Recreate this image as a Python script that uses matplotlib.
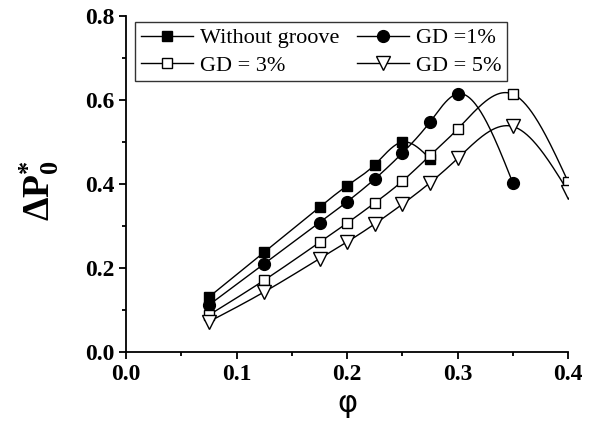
import numpy as np
import matplotlib
matplotlib.use('Agg')
import matplotlib.pyplot as plt
from matplotlib.lines import Line2D
from matplotlib.ticker import MultipleLocator, FormatStrFormatter

# Fontes estilo Times
plt.rcParams['font.family'] = ['Liberation Serif', 'DejaVu Serif']
plt.rcParams['mathtext.fontset'] = 'custom'
plt.rcParams['mathtext.rm'] = 'Liberation Serif'
plt.rcParams['mathtext.bf'] = 'Liberation Serif:bold'
plt.rcParams['mathtext.it'] = 'Liberation Serif:italic'

# Dados
phi_a = [0.075, 0.125, 0.175, 0.2, 0.225, 0.25, 0.275]
dp_sem_ranhura = [0.131, 0.238, 0.345, 0.396, 0.446, 0.500, 0.460]

phi_b = [0.075, 0.125, 0.175, 0.2, 0.225, 0.25, 0.275, 0.3, 0.35]
dp_gd1 = [0.112, 0.210, 0.308, 0.358, 0.412, 0.474, 0.548, 0.615, 0.402]

phi_c = [0.075, 0.125, 0.175, 0.2, 0.225, 0.25, 0.275, 0.3, 0.35, 0.4]
dp_gd3 = [0.088, 0.171, 0.261, 0.307, 0.355, 0.407, 0.468, 0.531, 0.614, 0.405]
dp_gd5 = [0.072, 0.143, 0.222, 0.262, 0.305, 0.352, 0.403, 0.461, 0.537, 0.382]

series = {
    'Without groove': (phi_a, dp_sem_ranhura, 's', 'black', 7),
    'GD =1%': (phi_b, dp_gd1, 'o', 'black', 8.5),
    'GD = 3%': (phi_c, dp_gd3, 's', 'white', 7.5),
    'GD = 5%': (phi_c, dp_gd5, 'v', 'white', 9.5),
}
# ordem da legenda (preenchida por colunas -> linhas como no original)
ordem_legenda = ['Without groove', 'GD = 3%', 'GD =1%', 'GD = 5%']


# Spline cúbica natural (tipo "Spline" do Origin) para a linha
def spline_natural(x, y, n=60):
    x = np.asarray(x, float)
    y = np.asarray(y, float)
    k = len(x)
    h = np.diff(x)
    A = np.zeros((k, k))
    r = np.zeros(k)
    A[0, 0] = A[-1, -1] = 1
    for i in range(1, k - 1):
        A[i, i - 1] = h[i - 1]
        A[i, i] = 2 * (h[i - 1] + h[i])
        A[i, i + 1] = h[i]
        r[i] = 6 * ((y[i + 1] - y[i]) / h[i] - (y[i] - y[i - 1]) / h[i - 1])
    M = np.linalg.solve(A, r)
    xs, ys = [], []
    for i in range(k - 1):
        t = np.linspace(x[i], x[i + 1], n)
        a = (x[i + 1] - t) / h[i]
        b = (t - x[i]) / h[i]
        s = a * y[i] + b * y[i + 1] + ((a**3 - a) * M[i] + (b**3 - b) * M[i + 1]) * h[i]**2 / 6
        xs.append(t)
        ys.append(s)
    return np.concatenate(xs), np.concatenate(ys)


fig = plt.figure(figsize=(5.9, 4.36), dpi=100)
ax = fig.add_axes([0.214, 0.193, 0.749, 0.770])

handles = {}
for nome, (x, y, mk, fc, ms) in series.items():
    xs, ys = spline_natural(x, y)
    ax.plot(xs, ys, color='black', lw=1.0, zorder=2)
    ax.plot(x, y, ls='none', marker=mk, ms=ms, mfc=fc, mec='black', mew=1.0, zorder=3)
    handles[nome] = Line2D([], [], color='black', lw=1.0, marker=mk, ms=ms,
                           mfc=fc, mec='black', mew=1.0, label=nome)

ax.set_xlim(0, 0.4)
ax.set_ylim(0, 0.8)
ax.xaxis.set_major_locator(MultipleLocator(0.1))
ax.xaxis.set_minor_locator(MultipleLocator(0.05))
ax.yaxis.set_major_locator(MultipleLocator(0.2))
ax.yaxis.set_minor_locator(MultipleLocator(0.1))
ax.xaxis.set_major_formatter(FormatStrFormatter('%.1f'))
ax.yaxis.set_major_formatter(FormatStrFormatter('%.1f'))

for lado in ['top', 'right']:
    ax.spines[lado].set_visible(False)
for lado in ['left', 'bottom']:
    ax.spines[lado].set_linewidth(1.3)

ax.tick_params(which='major', direction='out', length=5, width=1.3, labelsize=17)
ax.tick_params(which='minor', direction='out', length=3, width=1.3)
for lab in ax.get_xticklabels() + ax.get_yticklabels():
    lab.set_fontweight('bold')

ax.set_xlabel('\u03c6', fontsize=22, labelpad=3, family=['DejaVu Sans'])
ax.set_ylabel(r'$\mathbf{\Delta P}_{\mathbf{0}}^{\mathbf{*}}$', fontsize=27)
ax.yaxis.set_label_coords(-0.148, 0.48)

leg = ax.legend(handles=[handles[n] for n in ordem_legenda], ncol=2, loc='upper left',
                bbox_to_anchor=(0.01, 0.995), fontsize=16, frameon=True, fancybox=False,
                handlelength=2.35, handletextpad=0.3, columnspacing=0.8,
                labelspacing=0.3, borderpad=0.25, borderaxespad=0.2)
leg.get_frame().set_edgecolor('black')
leg.get_frame().set_linewidth(1.0)

plt.savefig('out.png', dpi=100)
plt.close(fig)
